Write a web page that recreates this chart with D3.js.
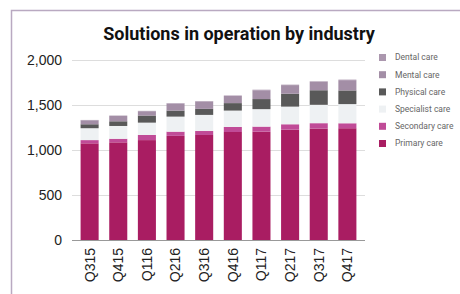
<!DOCTYPE html>
<html>
<head>
<meta charset="UTF-8">
<title>Solutions in operation by industry</title>
<script src="https://d3js.org/d3.v7.min.js"></script>
<style>
  body { margin: 0; background: #fff; }
  svg { font-family: Roboto, "Noto Sans", sans-serif; }
  .grid line { stroke: #ddd; }
  .y-axis text { font-size: 14px; fill: #222; }
  .x-axis text { font-size: 14px; fill: #222; }
  .legend text { font-size: 8.5px; fill: #666; }
</style>
</head>
<body>
<script>
var width = 460, height = 294;

var quarters = ["Q315", "Q415", "Q116", "Q216", "Q316", "Q416", "Q117", "Q217", "Q317", "Q417"];
var primary    = [1074, 1085, 1110, 1157, 1167, 1200, 1204, 1226, 1238, 1242];
var secondary  = [36, 40, 57, 47, 44, 56, 56, 60, 60, 55];
var specialist = [132, 142, 137, 167, 179, 182, 194, 196, 204, 213];
var physical   = [44, 52, 79, 67, 67, 83, 112, 143, 162, 152];
var mental     = [44, 60, 48, 78, 82, 80, 98, 96, 95, 114];
var dental     = [4, 4, 4, 5, 5, 5, 6, 5, 5, 6];
var yTicks = [0, 500, 1000, 1500, 2000];

var seriesNames = ["Primary care", "Secondary care", "Specialist care", "Physical care", "Mental care", "Dental care"];
var seriesValues = [primary, secondary, specialist, physical, mental, dental];
var colors = ["#a91d62", "#c04b97", "#eef1f3", "#595959", "#a38ea6", "#ab97ae"];

// table for d3.stack
var table = quarters.map(function (q, i) {
  var row = { quarter: q };
  seriesNames.forEach(function (s, j) { row[s] = seriesValues[j][i]; });
  return row;
});
var stacked = d3.stack().keys(seriesNames)(table);

var svg = d3.select("body").append("svg")
  .attr("width", width)
  .attr("height", height);

// frame
svg.append("rect")
  .attr("x", 11.5).attr("y", 10.5)
  .attr("width", 470).attr("height", 300)
  .attr("fill", "none")
  .attr("stroke", "#b9a9c1")
  .attr("stroke-width", 1.5);

svg.append("text")
  .attr("x", 239).attr("y", 40)
  .attr("text-anchor", "middle")
  .style("font-size", "18px")
  .style("font-weight", "bold")
  .style("fill", "#111")
  .text("Solutions in operation by industry");

var x = d3.scaleBand()
  .domain(quarters)
  .range([72, 365])
  .paddingInner(0.37)
  .paddingOuter(0.3);

var y = d3.scaleLinear()
  .domain([0, 2000])
  .range([240, 60]);

// grid lines
svg.append("g")
  .attr("class", "grid")
  .selectAll("line")
  .data(yTicks.slice(1))
  .enter().append("line")
  .attr("x1", 72).attr("x2", 365)
  .attr("y1", function (d) { return y(d) + 0.5; })
  .attr("y2", function (d) { return y(d) + 0.5; });

var yAxis = svg.append("g")
  .attr("class", "y-axis")
  .attr("transform", "translate(72,0)")
  .call(d3.axisLeft(y).tickValues(yTicks).tickFormat(d3.format(",")).tickSize(0).tickPadding(10));
yAxis.select(".domain").remove();

// bars
svg.append("g")
  .selectAll("g")
  .data(stacked)
  .enter().append("g")
  .attr("fill", function (d, i) { return colors[i]; })
  .selectAll("rect")
  .data(function (d) { return d; })
  .enter().append("rect")
  .attr("x", function (d) { return x(d.data.quarter); })
  .attr("width", x.bandwidth())
  .attr("y", function (d) { return y(d[1]); })
  .attr("height", function (d) { return y(d[0]) - y(d[1]); });

// baseline
svg.append("line")
  .attr("x1", 72).attr("x2", 365)
  .attr("y1", y(0) + 0.5).attr("y2", y(0) + 0.5)
  .attr("stroke", "#999");

var xAxis = svg.append("g")
  .attr("class", "x-axis")
  .attr("transform", "translate(0," + y(0) + ")")
  .call(d3.axisBottom(x).tickSize(0));
xAxis.select(".domain").remove();
xAxis.selectAll("text")
  .attr("transform", "rotate(-90)")
  .attr("text-anchor", "end")
  .attr("x", -8)
  .attr("y", 0)
  .attr("dy", "0.35em");

// legend, top entry is last series
var legendOrder = seriesNames.slice().reverse();
var legend = svg.append("g")
  .attr("class", "legend")
  .selectAll("g")
  .data(legendOrder)
  .enter().append("g")
  .attr("transform", function (d, i) { return "translate(379," + (54 + i * 17.2) + ")"; });
legend.append("rect")
  .attr("width", 7).attr("height", 7)
  .attr("fill", function (d) { return colors[seriesNames.indexOf(d)]; });
legend.append("text")
  .attr("x", 16).attr("y", 3.5)
  .attr("dy", "0.35em")
  .text(function (d) { return d; });
</script>
</body>
</html>
